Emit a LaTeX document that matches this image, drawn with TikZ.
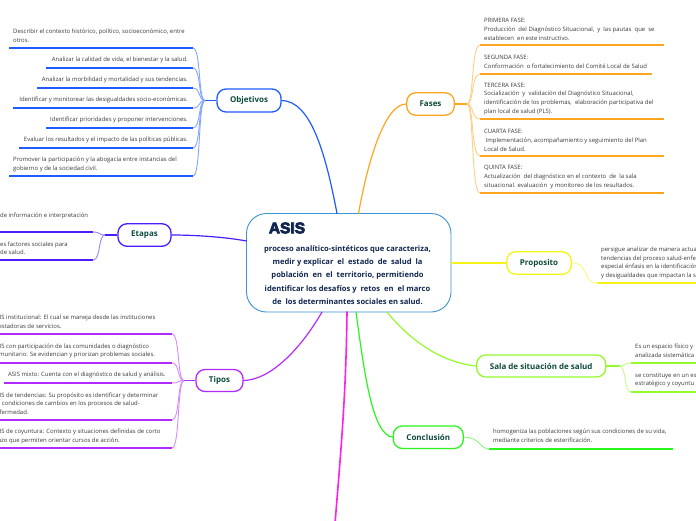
\documentclass[tikz,border=0pt]{standalone}
\usepackage{fontspec}
\setmainfont{Open Sans}
\newfontfamily\asisfont[BoldFeatures={FakeBold=5}]{Liberation Sans}
\usetikzlibrary{arrows.meta,positioning}
\definecolor{objcol}{HTML}{1F5BFF}
\definecolor{fasecol}{HTML}{FFA51F}
\definecolor{etacol}{HTML}{4A1CFF}
\definecolor{tipcol}{HTML}{B12BFF}
\definecolor{procol}{HTML}{F4F41A}
\definecolor{salcol}{HTML}{95FA2C}
\definecolor{concol}{HTML}{2BF51F}
\definecolor{magcol}{HTML}{FF1FE8}
\definecolor{asisblue}{HTML}{3A93D3}
\definecolor{asisnavy}{HTML}{10264F}
\definecolor{titlegreen}{HTML}{0E4A3C}
\tikzset{
    topic/.style={draw=#1, line width=1.3pt, rounded corners=9pt, fill=white, inner sep=0pt,
        font=\fontsize{8}{9}\selectfont\bfseries, text=titlegreen, align=center},
    leaftext/.style={inner sep=0pt, align=left, text=black!78, font=\fontsize{5.95}{8.8}\selectfont},
    lefttext/.style={leaftext, align=right},
    branch/.style={draw=#1, line width=1.2pt, line cap=round},
    stem/.style={draw=#1, line width=1.3pt},
    twig/.style={draw=#1!55, line width=0.9pt},
    rule/.style={draw=#1, line width=1.6pt}
}
\begin{document}
\begin{tikzpicture}[x=1pt, y=-1pt]
    \useasboundingbox (0,0) rectangle (696,520);
    \clip (0,0) rectangle (696,520);

    % nodo central
    \node[draw=asisblue, line width=0.9pt, rounded corners=20pt, fill=white, minimum width=204.5pt,
        minimum height=98.5pt, inner sep=0pt] (asis) at (348.75,262.75) {};
    \node[inner sep=0pt, text=asisnavy, font=\fontsize{15.5}{16}\selectfont\asisfont\bfseries] (asistitle) at (287,228) {ASIS};
    \node[inner sep=0pt, text=asisnavy, align=center, font=\fontsize{7.6}{13.4}\selectfont\bfseries] (asistext) at (347.5,275)
        {proceso analítico-sintéticos que caracteriza,\\
         medir y explicar\ \ el\ \ estado\ \ de\ \ salud\ \ la\\
         población\ \ en\ \ el\ \ territorio, permitiendo\\
         identificar los desafíos y\ \ retos\ \ en\ \ el marco\\
         de\ \ los determinantes sociales en salud.};
    \coordinate (asisobj) at (337,213.5);
    \coordinate (asisfas) at (358.5,213.5);
    \coordinate (asiseta) at (246.5,241);
    \coordinate (asistip) at (322,312);
    \coordinate (asismag) at (347,312);
    \coordinate (asiscon) at (356,312);
    \coordinate (asissal) at (387,312);
    \coordinate (magend) at (335,524);

    % temas
    \node[topic=objcol, minimum width=64pt, minimum height=23pt] (objetivos) at (249,100.5) {Objetivos};
    \node[topic=etacol, minimum width=53pt, minimum height=22.5pt] (etapas) at (144.5,235) {Etapas};
    \node[topic=tipcol, minimum width=47pt, minimum height=22pt] (tipos) at (219.5,380.5) {Tipos};
    \node[topic=fasecol, minimum width=47.5pt, minimum height=22.5pt] (fases) at (430.5,104) {Fases};
    \node[topic=procol, minimum width=64.5pt, minimum height=22.5pt] (proposito) at (539,263) {Proposito};
    \node[topic=salcol, minimum width=129pt, minimum height=22pt] (sala) at (541.2,366) {Sala de situación de salud};
    \node[topic=concol, minimum width=70pt, minimum height=22.5pt] (conclusion) at (428.3,437.2) {Conclusión};

    % ramas
    \draw[branch=objcol] (objetivos.east) .. controls (310,101) and (325,150) .. (asisobj);
    \draw[branch=fasecol] (fases.west) .. controls (385,104) and (368,160) .. (asisfas);
    \draw[branch=etacol] (etapas.east) .. controls (195,235) and (225,237) .. (asiseta);
    \draw[branch=tipcol] (tipos.east) .. controls (270,380) and (300,350) .. (asistip);
    \draw[branch=procol] (asis.east |- proposito) -- (proposito.west);
    \draw[branch=salcol] (sala.west) .. controls (440,362) and (410,340) .. (asissal);
    \draw[branch=concol] (conclusion.west) .. controls (372,435) and (364,370) .. (asiscon);
    \draw[branch=magcol, line width=1.6pt] (asismag) .. controls (346,400) and (340,460) .. (magend);

    % Objetivos
    \coordinate (objj) at (205,100.5);
    \draw[stem=objcol] (objetivos.west) -- (objj);
    \foreach \y/\xl [count=\i] in {48/9,68/46,88/37,108/13,128/46,148/19,176/9} {
        \coordinate (obj\i) at (193,\y);
        \draw[twig=objcol] (objj) .. controls (198,100.5) and (201,\y) .. (obj\i);
        \draw[rule=objcol] (\xl,\y) -- (obj\i);
    }
    \node[leaftext, anchor=west] (objt1) at (13,35.5) {Describir el contexto histórico, político, socioeconómico, entre\\otros.};
    \node[lefttext, anchor=east] (objt2) at (188,60) {Analizar la calidad de vida, el bienestar y la salud.};
    \node[lefttext, anchor=east] (objt3) at (188,80) {Analizar la morbilidad y mortalidad y sus tendencias.};
    \node[lefttext, anchor=east] (objt4) at (188,100) {Identificar y monitorear las desigualdades socio-económicas.};
    \node[lefttext, anchor=east] (objt5) at (188,120) {Identificar prioridades y proponer intervenciones.};
    \node[lefttext, anchor=east] (objt6) at (188,140) {Evaluar los resultados y el impacto de las políticas públicas.};
    \node[leaftext, anchor=west] (objt7) at (13,164.5) {Promover la participación y la abogacía entre instancias del\\gobierno y de la sociedad civil.};

    % Etapas
    \coordinate (etaj) at (105,235);
    \draw[stem=etacol] (etapas.west) -- (etaj);
    \foreach \y [count=\i] in {232,260} {
        \coordinate (eta\i) at (93,\y);
        \draw[twig=etacol] (etaj) .. controls (98,235) and (101,\y) .. (eta\i);
        \draw[rule=etacol] (0,\y) -- (eta\i);
    }
    \node[leaftext, anchor=west] (etat1) at (0,215.7) {de información e interpretación};
    \node[leaftext, anchor=west] (etat2) at (0,248.3) {es factores sociales para\\de salud.};

    % Tipos
    \coordinate (tipj) at (184,380.5);
    \draw[stem=tipcol] (tipos.west) -- (tipj);
    \foreach \y/\xl [count=\i] in {334/0,363/0,383/4,420/0,448/0} {
        \coordinate (tip\i) at (172,\y);
        \draw[twig=tipcol] (tipj) .. controls (177,380.5) and (180,\y) .. (tip\i);
        \draw[rule=tipcol] (\xl,\y) -- (tip\i);
    }
    \node[leaftext, anchor=west] (tipt1) at (-7.5,322.3) {ASIS institucional: El cual se maneja desde las instituciones\\prestadoras de servicios.};
    \node[leaftext, anchor=west] (tipt2) at (-7.5,351) {ASIS con participación de las comunidades o diagnóstico\\comunitario: Se evidencian y priorizan problemas sociales.};
    \node[leaftext, anchor=west] (tipt3) at (8,375) {ASIS mixto: Cuenta con el diagnóstico de salud y análisis.};
    \node[leaftext, anchor=west] (tipt4) at (-7.5,403.7) {ASIS de tendencias: Su propósito es identificar y determinar\\las condiciones de cambios en los procesos de salud-\\enfermedad.};
    \node[leaftext, anchor=west] (tipt5) at (-7.5,436.5) {ASIS de coyuntura: Contexto y situaciones definidas de corto\\plazo que permiten orientar cursos de acción.};

    % Fases
    \coordinate (fasj) at (467,104);
    \draw[stem=fasecol] (fases.east) -- (fasj);
    \foreach \y/\xr [count=\i] in {45/664,74/652,119/664,156/664,193/664} {
        \coordinate (fas\i) at (480,\y);
        \draw[twig=fasecol] (fasj) .. controls (474,104) and (471,\y) .. (fas\i);
        \draw[rule=fasecol] (fas\i) -- (\xr,\y);
    }
    \node[leaftext, anchor=west] (fast1) at (484,29.3) {PRIMERA FASE:\\Producción\ \ del Diagnóstico Situacional,\ \ y\ \ las pautas\ \ que\ \ se\\establecen\ \ en este instructivo.};
    \node[leaftext, anchor=west] (fast2) at (484,61.5) {SEGUNDA FASE:\\Conformación\ \ o fortalecimiento del Comité Local de Salud};
    \node[leaftext, anchor=west] (fast3) at (484,98.8) {TERCERA FASE:\\Socialización\ \ y\ \ validación del Diagnóstico Situacional,\\identificación de los problemas,\ \ elaboración participativa del\\plan local de salud (PLS).};
    \node[leaftext, anchor=west] (fast4) at (484,140.3) {CUARTA FASE:\\\ Implementación, acompañamiento y seguimiento del Plan\\Local de Salud.};
    \node[leaftext, anchor=west] (fast5) at (484,177.3) {QUINTA FASE:\\Actualización\ \ del diagnóstico en el contexto\ \ de\ \ la sala\\situacional. evaluación\ \ y monitoreo de los resultados.};

    % Proposito
    \coordinate (pro1) at (597,283);
    \draw[twig=procol!70!yellow] (proposito.east) .. controls (590,263) and (582,283) .. (pro1);
    \draw[rule=procol] (pro1) -- (696,283);
    \node[leaftext, anchor=west] (prot1) at (601,263) {persigue analizar de manera actua\\tendencias del proceso salud-enfe\\especial énfasis en la identificación\\y desigualdades que impactan la s};

    % Sala de situacion
    \coordinate (salj) at (620,366);
    \draw[stem=salcol] (sala.east) -- (salj);
    \foreach \y [count=\i] in {363,392} {
        \coordinate (sal\i) at (631,\y);
        \draw[twig=salcol] (salj) .. controls (626,366) and (624,\y) .. (sal\i);
        \draw[rule=salcol] (sal\i) -- (696,\y);
    }
    \node[leaftext, anchor=west] (salt1) at (635,351) {Es un espacio físico y\\analizada sistemática};
    \node[leaftext, anchor=west] (salt2) at (635,380) {se constituye en un es\\estratégico y coyuntu};

    % Conclusion
    \coordinate (con1) at (489,449);
    \draw[twig=concol] (conclusion.east) .. controls (480,437) and (480,449) .. (con1);
    \draw[rule=concol] (con1) -- (673,449);
    \node[leaftext, anchor=west] (cont1) at (493,436) {homogeniza las poblaciones según sus condiciones de su vida,\\mediante criterios de esterificación.};
\end{tikzpicture}
\end{document}
